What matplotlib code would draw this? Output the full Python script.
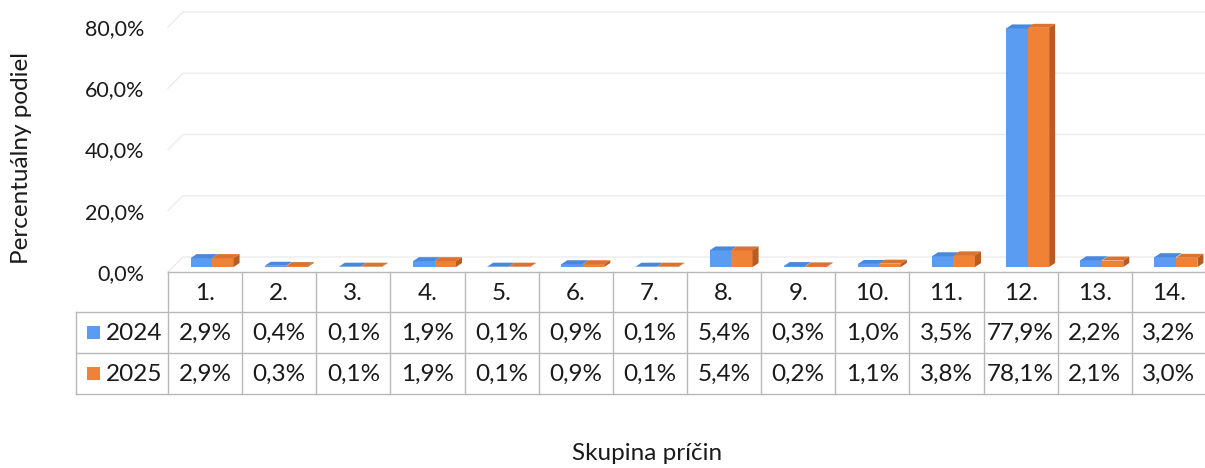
import matplotlib
matplotlib.use("Agg")
import matplotlib.pyplot as plt
from matplotlib.patches import Polygon, Rectangle
from matplotlib.transforms import ScaledTranslation

plt.rcParams['font.family'] = ['Lato', 'DejaVu Sans']

categories = ['1.', '2.', '3.', '4.', '5.', '6.', '7.', '8.', '9.', '10.', '11.', '12.', '13.', '14.']
series_names = ['2024', '2025']
v2024 = [2.9, 0.4, 0.1, 1.9, 0.1, 0.9, 0.1, 5.4, 0.3, 1.0, 3.5, 77.9, 2.2, 3.2]
v2025 = [2.9, 0.3, 0.1, 1.9, 0.1, 0.9, 0.1, 5.4, 0.2, 1.1, 3.8, 78.1, 2.1, 3.0]
yticks = [0, 20, 40, 60, 80]

front_col = ['#5A9CF2', '#F08238']
top_col = ['#4A88DC', '#DC7230']
side_col = '#B85C22'
grid_col = '#ebebeb'
line_col = '#b8b8b8'
txt_col = '#1a1a1a'


def pct(v):
    return f"{v:.1f}%".replace('.', ',')


W, H = 1205, 468
fig = plt.figure(figsize=(W / 100, H / 100), dpi=100)

# layout in pixels
x0, x1 = 168, 1206
base_y, top_y = 267, 22
n = len(categories)
col_w = (x1 - x0) / n
ypx = (base_y - top_y) / 80.0  # pixels per percent

# overlay in pixel coordinates for gridlines and the data table
ov = fig.add_axes([0, 0, 1, 1], zorder=0)
ov.set_xlim(0, W)
ov.set_ylim(H, 0)
ov.axis('off')

ax = fig.add_axes([x0 / W, (H - base_y) / H, (x1 - x0) / W, (base_y - top_y) / H], zorder=1)
ax.patch.set_alpha(0)
ax.set_xlim(-0.5, n - 0.5)
ax.set_ylim(0, 80)
for s in ax.spines.values():
    s.set_visible(False)
ax.set_xticks([])
ax.set_yticks(yticks)
ax.set_yticklabels([pct(v) for v in yticks], fontsize=15.5, color=txt_col)
ax.tick_params(axis='y', length=0, pad=17)
shift = ScaledTranslation(0, -0.05, fig.dpi_scale_trans)
for lbl in ax.get_yticklabels():
    lbl.set_transform(lbl.get_transform() + shift)

# back wall gridlines (3D look)
depth = 15
for v in yticks:
    yf = base_y + 5 - v * ypx
    ov.plot([x0, x0 + depth, x1], [yf, yf - depth, yf - depth], color=grid_col, lw=1)

# bars with pseudo 3D faces
bw = 21.5 / col_w
off = 7 / col_w
dx = 6 / col_w
dy = 4 / ypx
for k, vals in enumerate([v2024, v2025]):
    for i, v in enumerate(vals):
        left = i + off - bw + k * bw
        ax.bar(left, v, width=bw, align='edge', color=front_col[k], lw=0, zorder=2)
        ax.add_patch(Polygon([(left, v), (left + bw, v), (left + bw + dx, v + dy), (left + dx, v + dy)],
                             closed=True, color=top_col[k], lw=0, zorder=3))
        if k == 1:
            ax.add_patch(Polygon([(left + bw, 0), (left + bw + dx, dy), (left + bw + dx, v + dy), (left + bw, v)],
                                 closed=True, color=side_col, lw=0, zorder=3))

# data table
t_top, r1, r2, r3 = 272, 312, 353, 394
leg_left = 76
ov.plot([x0, x1], [t_top, t_top], color=line_col, lw=1)
for yy in (r1, r2, r3):
    ov.plot([leg_left, x1], [yy, yy], color=line_col, lw=1)
ov.plot([leg_left, leg_left], [r1, r3], color=line_col, lw=1)
for k in range(n + 1):
    xx = x0 + k * col_w
    ov.plot([xx, xx], [t_top, r3], color=line_col, lw=1)

fs = 17.5
for i, c in enumerate(categories):
    cx = x0 + (i + 0.5) * col_w
    ov.text(cx, (t_top + r1) / 2 + 1, c, ha='center', va='center', fontsize=fs, color=txt_col)
    ov.text(cx, (r1 + r2) / 2 + 1, pct(v2024[i]), ha='center', va='center', fontsize=fs, color=txt_col)
    ov.text(cx, (r2 + r3) / 2 + 1, pct(v2025[i]), ha='center', va='center', fontsize=fs, color=txt_col)

for k, (name, (ra, rb)) in enumerate(zip(series_names, [(r1, r2), (r2, r3)])):
    cy = (ra + rb) / 2
    ov.add_patch(Rectangle((87, cy - 6.5), 13, 13, color=front_col[k], lw=0))
    ov.text(106, cy + 1, name, ha='left', va='center', fontsize=fs, color=txt_col)

ov.text(22, 158, 'Percentuálny podiel', rotation=90, ha='center', va='center', fontsize=17.5, color=txt_col)
ov.text(647, 453, 'Skupina príčin', ha='center', va='center', fontsize=17.5, color=txt_col)

fig.savefig('out.png', dpi=100)
